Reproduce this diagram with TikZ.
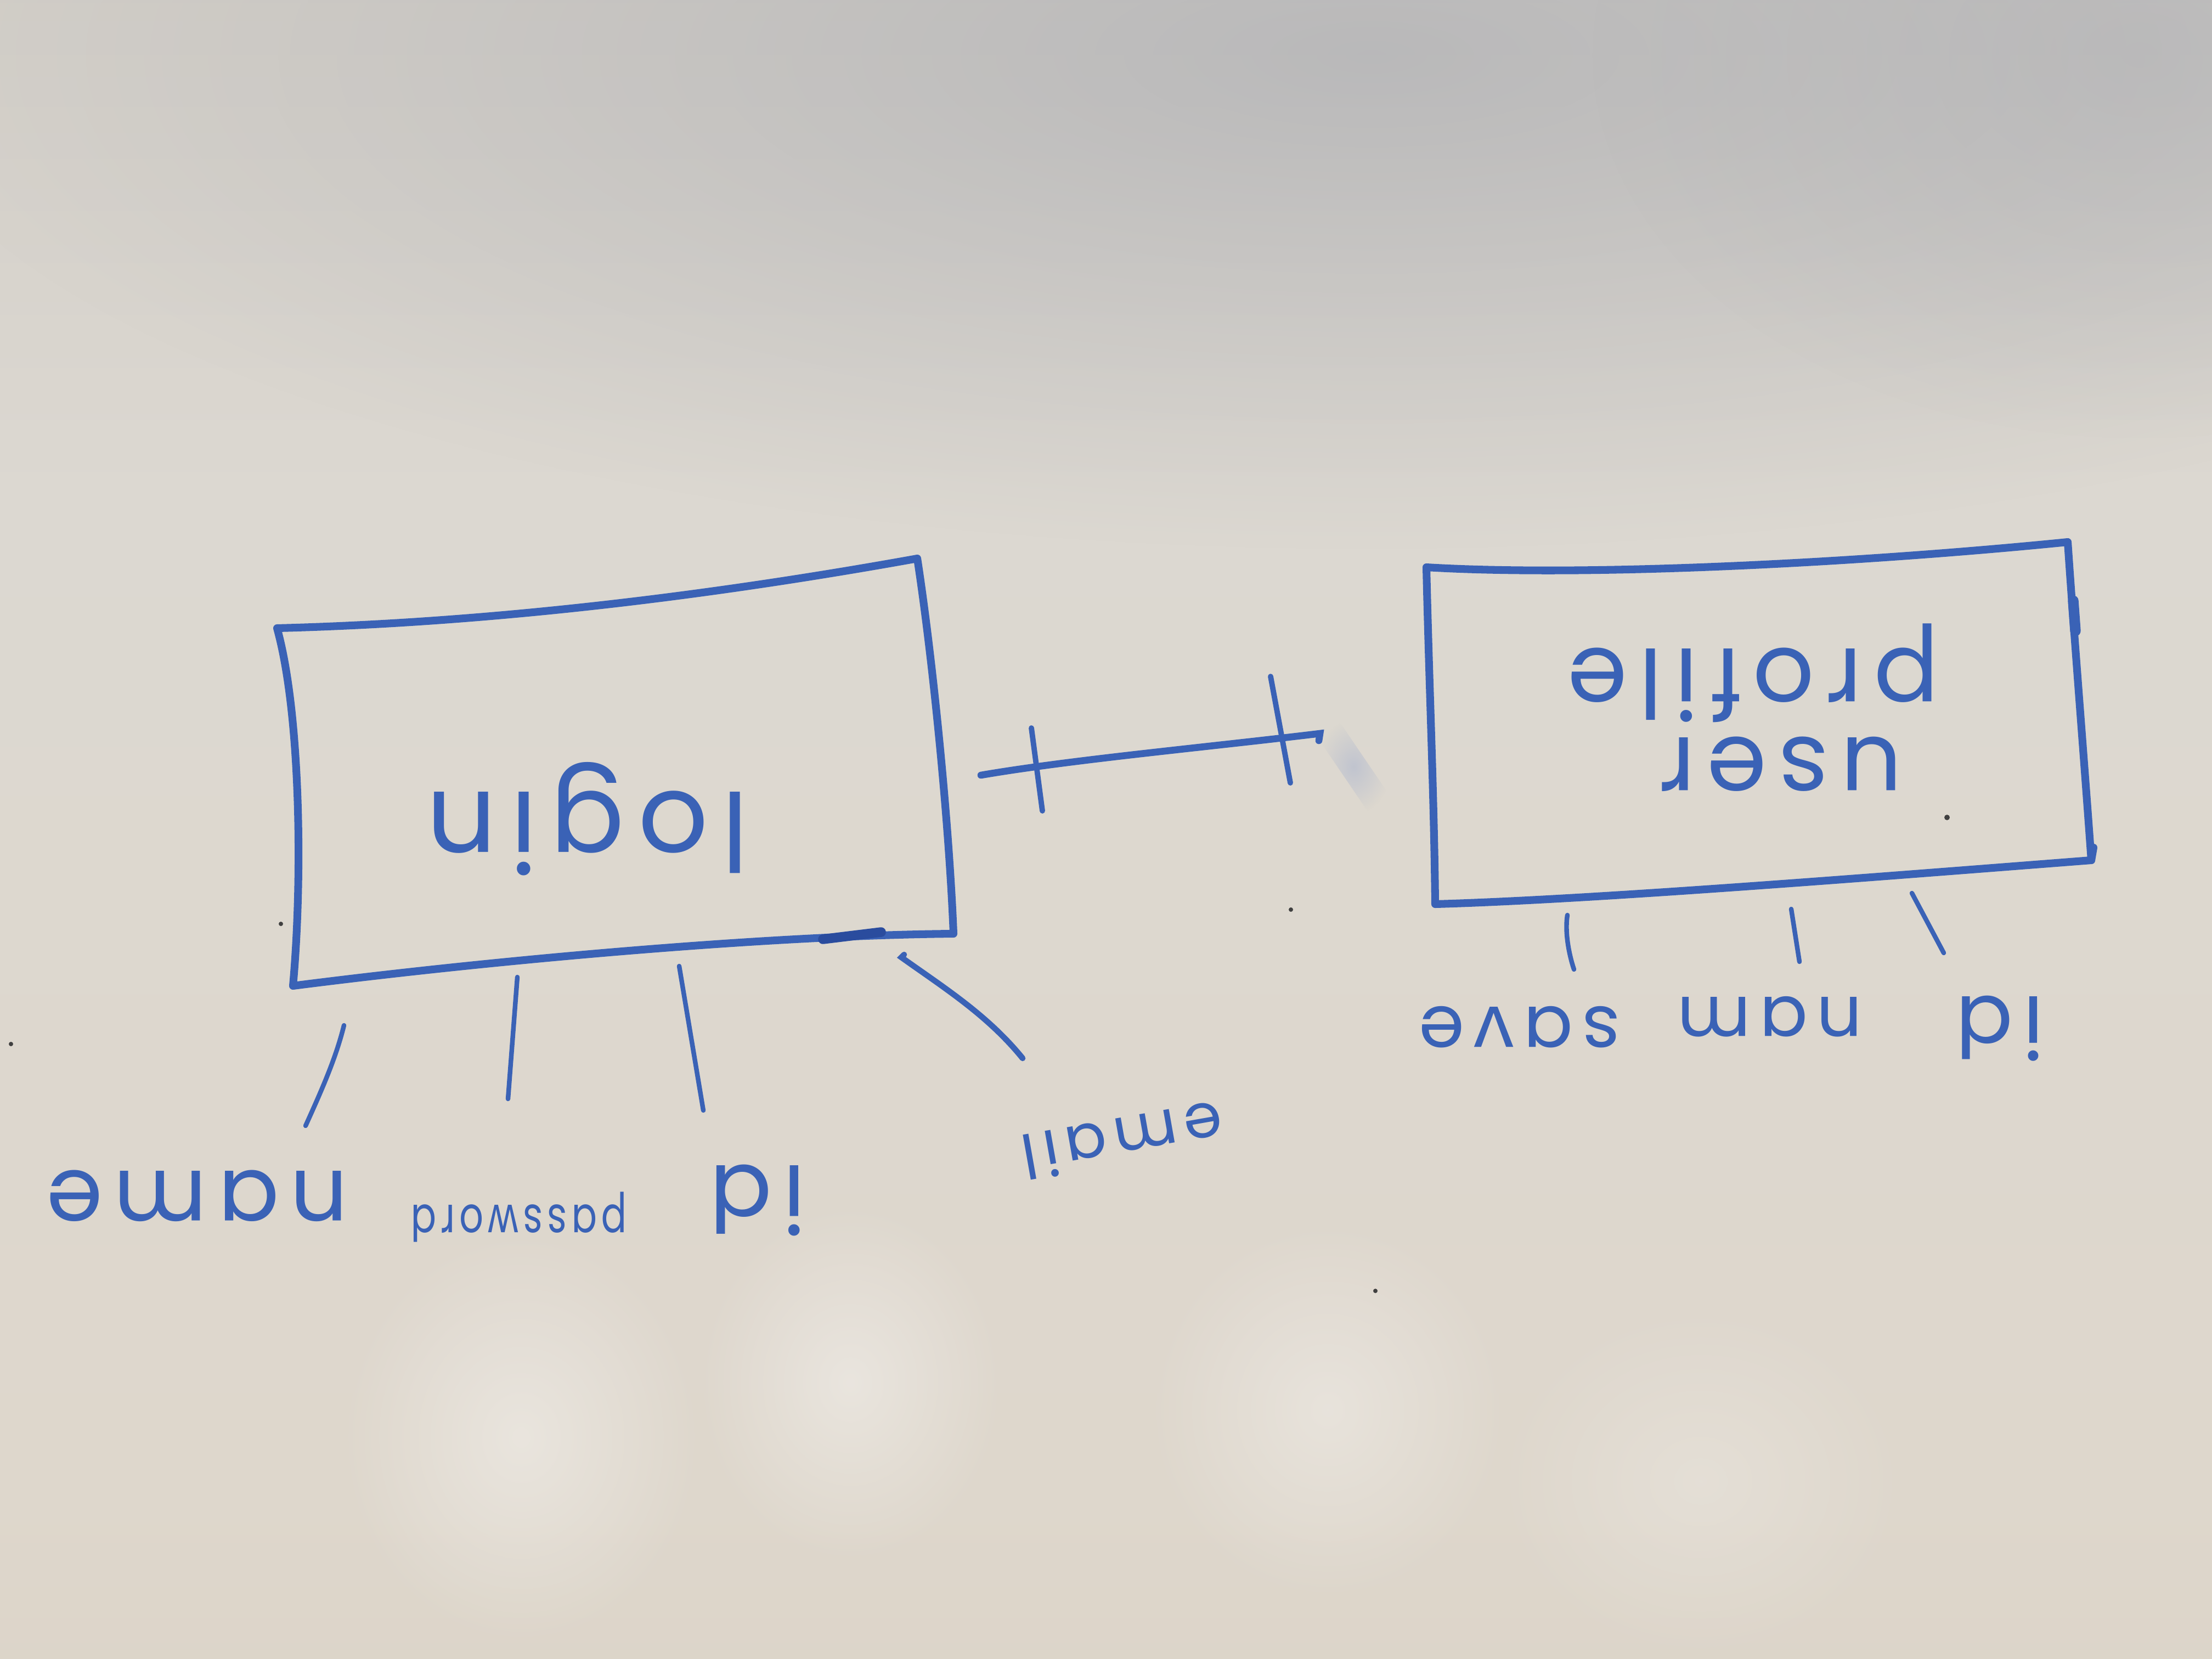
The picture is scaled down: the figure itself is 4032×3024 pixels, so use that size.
\documentclass[tikz,border=0pt]{standalone}
\usepackage{fontspec}
\usepackage{graphicx}
\newfontfamily\hand[LetterSpace=12]{Poppins}
\usetikzlibrary{fadings}
\tikzfading[name=softglow, inner color=transparent!0, outer color=transparent!100]
\definecolor{ink}{RGB}{58,98,182}
\definecolor{inkdark}{RGB}{42,76,158}
\definecolor{smudge}{RGB}{140,160,205}
\definecolor{bgbot}{RGB}{212,203,188}
\definecolor{bglow}{RGB}{222,215,204}
\definecolor{bgmid}{RGB}{220,216,209}
\definecolor{bgup}{RGB}{206,202,196}
\definecolor{bgtop}{RGB}{192,189,184}
\definecolor{greycloud}{RGB}{168,170,176}
\pgfdeclareverticalshading{board}{100bp}{color(0bp)=(bgbot); color(30bp)=(bglow); color(60bp)=(bgmid); color(82bp)=(bgup); color(100bp)=(bgtop)}
\begin{document}
\begin{tikzpicture}[x=0.01cm,y=-0.01cm,
  boxline/.style={draw=ink, line width=4pt, line join=round, line cap=round},
  attrline/.style={draw=ink, line width=2.4pt, line cap=round},
  linkline/.style={draw=ink, line width=3.6pt, line cap=round},
  tickline/.style={draw=ink, line width=2.8pt, line cap=round},
  hw/.style={text=ink, inner sep=0pt, rotate=180, font=\hand\fontsize{#1}{#1}\selectfont},
  speck/.style={fill=black!75},
]
% whiteboard background
\useasboundingbox (0,0) rectangle (4032,3024);
\shade[shading=board] (0,0) rectangle (4032,3024);
\fill[greycloud, opacity=0.6, path fading=softglow] (2500,100) ellipse [x radius=2700, y radius=900];
\fill[greycloud, opacity=0.4, path fading=softglow] (3900,100) ellipse [x radius=1000, y radius=700];
\fill[white, opacity=0.35, path fading=softglow] (950,2620) ellipse [x radius=330, y radius=380];
\fill[white, opacity=0.35, path fading=softglow] (1550,2520) ellipse [x radius=280, y radius=330];
\fill[white, opacity=0.30, path fading=softglow] (2420,2570) ellipse [x radius=330, y radius=350];
\fill[white, opacity=0.20, path fading=softglow] (3100,2700) ellipse [x radius=380, y radius=330];

% login box
\coordinate (lTL) at (505,1145);
\coordinate (lTR) at (1672,1018);
\coordinate (lBR) at (1738,1702);
\coordinate (lBL) at (534,1797);
\draw[boxline] (lTL) .. controls (900,1135) and (1300,1085) .. (lTR)
  .. controls (1700,1200) and (1730,1500) .. (lBR)
  .. controls (1400,1705) and (900,1750) .. (lBL)
  .. controls (552,1600) and (548,1300) .. cycle;
\draw[boxline, draw=inkdark, line width=5pt] (1500,1712) -- (1606,1699);
\node[hw=57] (login) at (1071,1493) {login};

% user profile box
\coordinate (uTL) at (2600,1034);
\coordinate (uTR) at (3769,988);
\coordinate (uBR) at (3812,1568);
\coordinate (uBL) at (2616,1648);
\draw[boxline] (uTL) .. controls (2900,1052) and (3400,1025) .. (uTR)
  .. controls (3780,1150) and (3800,1400) .. (uBR)
  .. controls (3400,1600) and (2900,1640) .. (uBL)
  .. controls (2614,1450) and (2605,1250) .. cycle;
\draw[boxline, line width=5.5pt] (3779,1095) -- (3783,1150);
\draw[boxline] (3812,1568) -- (3816,1545);
\node[hw=50, font=\hand\fontsize{50}{46}\selectfont, align=center] (uprof) at (3196,1290) {user\hspace*{1cm}\\profile};

% one-to-one relationship line
\coordinate (relA) at (1788,1413);
\coordinate (relB) at (2406,1337);
\draw[linkline] (relA) .. controls (1950,1385) and (2200,1362) .. (relB) -- (2404,1350);
\coordinate (t1a) at (1880,1327);
\coordinate (t1b) at (1900,1478);
\coordinate (t2a) at (2316,1233);
\coordinate (t2b) at (2352,1427);
\draw[tickline] (t1a) -- (t1b);
\draw[tickline] (t2a) -- (t2b);
\draw[smudge, opacity=0.35, line width=14pt, line cap=round, path fading=softglow] (2425,1335) -- (2510,1460);

% login attributes
\coordinate (la1) at (627,1869);  \coordinate (lb1) at (557,2052);
\coordinate (la2) at (943,1781);  \coordinate (lb2) at (926,2003);
\coordinate (la3) at (1238,1761); \coordinate (lb3) at (1282,2024);
\coordinate (la4) at (1643,1745); \coordinate (lb4) at (1864,1929);
\draw[attrline] (la1) .. controls (612,1930) and (585,1990) .. (lb1);
\draw[attrline] (la2) -- (lb2);
\draw[attrline] (la3) -- (lb3);
\draw[attrline, line width=3pt] (1648,1740) -- (la4) .. controls (1720,1800) and (1800,1850) .. (lb4);
\node[hw=47] (aname) at (360,2180) {name};
\node[hw=26] (apass) at (946,2218) {\scalebox{0.75}[1]{password}};
\node[hw=48] (aid) at (1381,2188) {id};
\node[hw=32, rotate=10] (amail) at (2046,2080) {email};

% user profile attributes
\coordinate (ra1) at (2857,1668); \coordinate (rb1) at (2869,1767);
\coordinate (ra2) at (3265,1657); \coordinate (rb2) at (3280,1753);
\coordinate (ra3) at (3485,1628); \coordinate (rb3) at (3543,1737);
\draw[attrline] (ra1) .. controls (2852,1700) and (2860,1740) .. (rb1);
\draw[attrline] (ra2) -- (rb2);
\draw[attrline] (ra3) -- (rb3);
\node[hw=38] (rsave) at (2770,1872) {save};
\node[hw=37] (rnam) at (3226,1853) {nam};
\node[hw=44] (rid) at (3645,1875) {id};

% specks on the board
\fill[speck] (3549,1490) circle [radius=5];
\fill[speck] (2353,1658) circle [radius=4];
\fill[speck] (512,1684) circle [radius=4];
\fill[speck] (2507,2353) circle [radius=4];
\fill[speck] (20,1903) circle [radius=4];
\end{tikzpicture}
\end{document}
